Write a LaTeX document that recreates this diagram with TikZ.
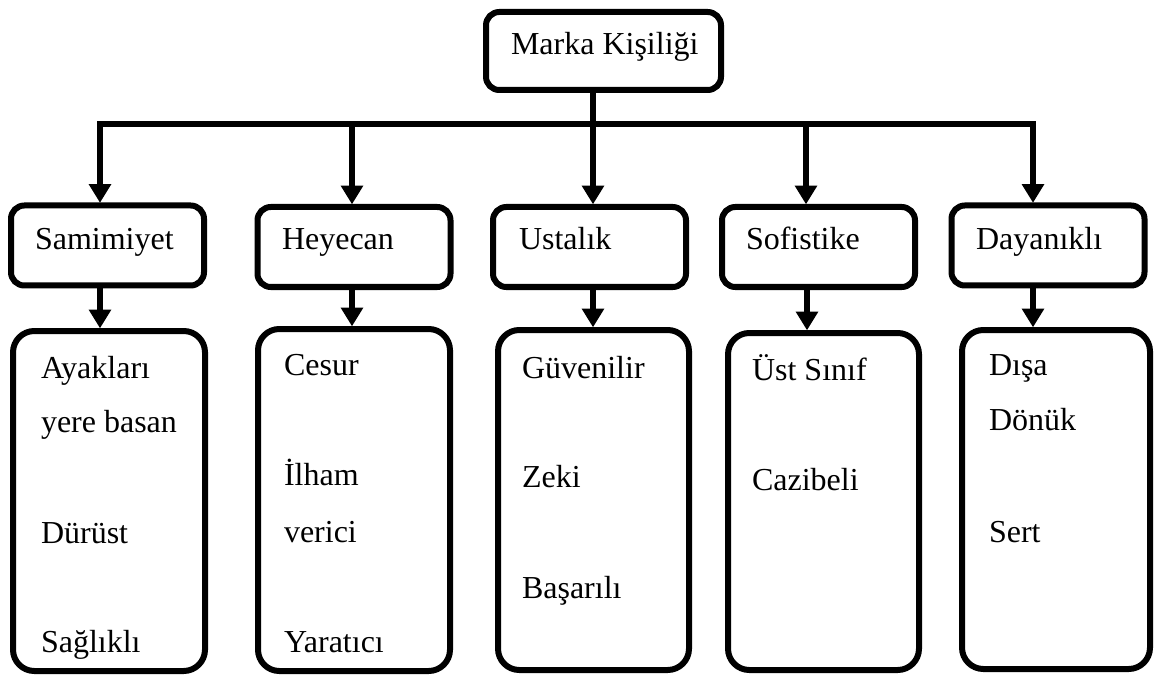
\documentclass[tikz,border=0pt]{standalone}
\usepackage{fontspec}
\setmainfont{Liberation Serif}
\usetikzlibrary{arrows.meta}
\begin{document}
\begin{tikzpicture}[x=0.75pt,y=-0.75pt,
  every node/.style={inner sep=0pt, outer sep=0pt},
  headbox/.style={draw, line width=4.5pt, rounded corners=10pt,
    minimum width=235*0.75pt, minimum height=78*0.75pt},
  catbox/.style={draw, line width=4.5pt, rounded corners=10pt,
    minimum width=193*0.75pt, minimum height=80*0.75pt},
  listbox/.style={draw, line width=4.5pt, rounded corners=16pt,
    minimum height=340*0.75pt},
  lbl/.style={anchor=base west, font=\fontsize{24}{28}\selectfont},
  arr/.style={line width=4.5pt, -{Triangle[width=16pt,length=14pt]}, shorten >=2pt}
]
\useasboundingbox (0,0) rectangle (1156,677);

% top node
\node[headbox] (top) at (603.5,51) {};
\node[lbl] (ttop) at (511,55) {Marka Kişiliği};

% categories
\node[catbox] (c1) at (107.5,245.5) {};
\node[catbox] (c2) at (354,247) {};
\node[catbox] (c3) at (589.5,247) {};
\node[catbox] (c4) at (818.5,247) {};
\node[catbox] (c5) at (1048,245.5) {};
\node[lbl] (tc1) at (35,250) {Samimiyet};
\node[lbl] (tc2) at (282,250) {Heyecan};
\node[lbl] (tc3) at (519,250) {Ustalık};
\node[lbl] (tc4) at (746,250) {Sofistike};
\node[lbl] (tc5) at (976,250) {Dayanıklı};

% trait lists
\node[listbox, minimum width=192*0.75pt] (l1) at (109,501) {};
\node[listbox, minimum width=192*0.75pt, minimum height=342*0.75pt] (l2) at (354,500) {};
\node[listbox, minimum width=191*0.75pt] (l3) at (593.5,500) {};
\node[listbox, minimum width=191*0.75pt, minimum height=337*0.75pt] (l4) at (823.5,501.5) {};
\node[listbox, minimum width=188*0.75pt, minimum height=339*0.75pt] (l5) at (1056,499.5) {};

\node[lbl] (a1) at (41,378) {Ayakları};
\node[lbl] (a2) at (41,432) {yere basan};
\node[lbl] (a3) at (41,543) {Dürüst};
\node[lbl] (a4) at (41,652) {Sağlıklı};

\node[lbl] (h1) at (284,375) {Cesur};
\node[lbl] (h2) at (284,485) {İlham};
\node[lbl] (h3) at (284,542) {verici};
\node[lbl] (h4) at (284,652) {Yaratıcı};

\node[lbl] (u1) at (522,378) {Güvenilir};
\node[lbl] (u2) at (522,487) {Zeki};
\node[lbl] (u3) at (522,598) {Başarılı};

\node[lbl] (s1) at (752,380) {Üst Sınıf};
\node[lbl] (s2) at (752,490) {Cazibeli};

\node[lbl] (d1) at (989,375) {Dışa};
\node[lbl] (d2) at (989,430) {Dönük};
\node[lbl] (d3) at (989,542) {Sert};

% bus points
\coordinate (b1) at (100,124);
\coordinate (b2) at (352,124);
\coordinate (b3) at (593,124);
\coordinate (b4) at (806,124);
\coordinate (b5) at (1033,124);

% connectors from the top node
\draw[arr] (b3 |- top.south) -- (b3 |- c3.north);
\draw[arr] (b3) -- (b1) -- (b1 |- c1.north);
\draw[arr] (b3) -- (b5) -- (b5 |- c5.north);
\draw[arr] (b2) -- (b2 |- c2.north);
\draw[arr] (b4) -- (b4 |- c4.north);

% connectors from categories to trait lists
\draw[arr] (b1 |- c1.south) -- (b1 |- l1.north);
\draw[arr] (b2 |- c2.south) -- (b2 |- l2.north);
\draw[arr] (b3 |- c3.south) -- (b3 |- l3.north);
\draw[arr] ([xshift=0.75pt]b4 |- c4.south) -- ([xshift=0.75pt]b4 |- l4.north);
\draw[arr] (b5 |- c5.south) -- (b5 |- l5.north);
\end{tikzpicture}
\end{document}
